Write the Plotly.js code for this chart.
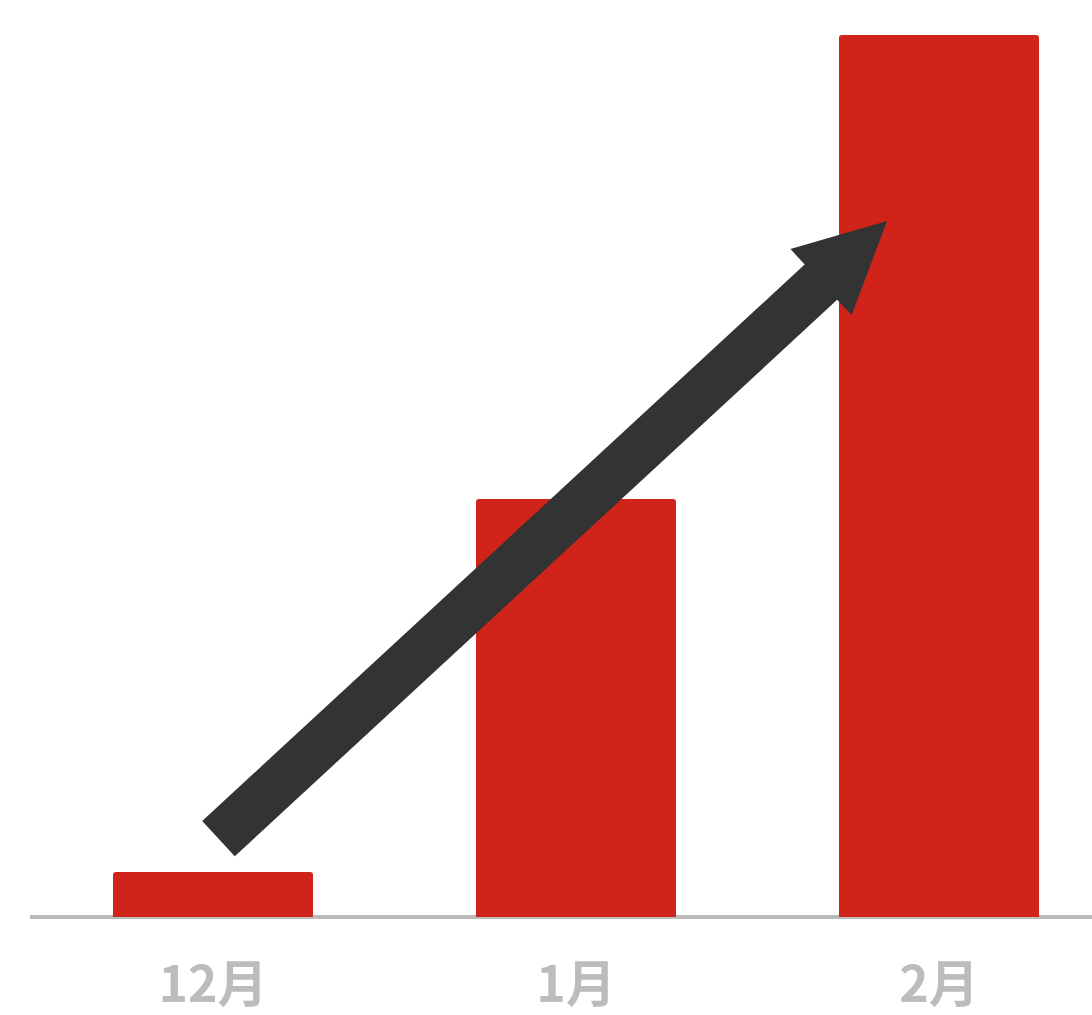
<!DOCTYPE html>
<html>
<head>
<meta charset="utf-8">
<script src="https://cdn.plot.ly/plotly-3.0.1.min.js"></script>
<style>html,body{margin:0;padding:0;overflow:hidden;background:#fff;}#chart{width:1092px;height:1015px;}</style>
</head>
<body>
<div id="chart"></div>
<script>
// Data
const categories = ['12月', '1月', '2月'];
const values = [5.1, 47.4, 100];

// Trend arrow (data coordinates: category index, value)
const arrowTail = {x: 0.011, y: 8.73};
const arrowShaftEnd = {x: 1.685, y: 72.37};
const arrowHeadBase = {x: 1.675, y: 71.98};
const arrowTip = {x: 1.857, y: 78.91};

const trace = {
  type: 'bar',
  x: categories,
  y: values,
  width: 0.551,
  marker: {color: '#D0241B', line: {width: 0}},
  hoverinfo: 'skip'
};

const arrowColor = '#333333';

const layout = {
  width: 1092,
  height: 1015,
  margin: {l: 30, r: 0, t: 0, b: 90, pad: 0},
  paper_bgcolor: '#ffffff',
  plot_bgcolor: '#ffffff',
  showlegend: false,
  barcornerradius: 3,
  xaxis: {
    type: 'category',
    range: [-0.5041, 2.4215],
    showgrid: false,
    zeroline: false,
    showline: false,
    ticks: '',
    ticklabelstandoff: 26,
    tickfont: {family: '"Noto Sans CJK SC", "Noto Sans", sans-serif', size: 50, color: '#bcbcbc', weight: 'bold'}
  },
  yaxis: {
    range: [-0.907, 103.97],
    showgrid: false,
    showticklabels: false,
    ticks: '',
    zeroline: true,
    zerolinecolor: '#bbbbbb',
    zerolinewidth: 4,
    showline: false
  },
  annotations: [
    {
      // shaft
      xref: 'x', yref: 'y', axref: 'x', ayref: 'y',
      x: arrowShaftEnd.x, y: arrowShaftEnd.y,
      ax: arrowTail.x, ay: arrowTail.y,
      text: '',
      showarrow: true,
      arrowhead: 0,
      arrowwidth: 48,
      arrowcolor: arrowColor,
      standoff: 0
    },
    {
      // head
      xref: 'x', yref: 'y', axref: 'x', ayref: 'y',
      x: arrowTip.x, y: arrowTip.y,
      ax: arrowHeadBase.x, ay: arrowHeadBase.y,
      text: '',
      showarrow: true,
      arrowhead: 2,
      arrowwidth: 2,
      arrowsize: 9,
      arrowcolor: arrowColor,
      standoff: 0
    }
  ]
};

Plotly.newPlot('chart', [trace], layout, {displayModeBar: false, staticPlot: true});
</script>
</body>
</html>
